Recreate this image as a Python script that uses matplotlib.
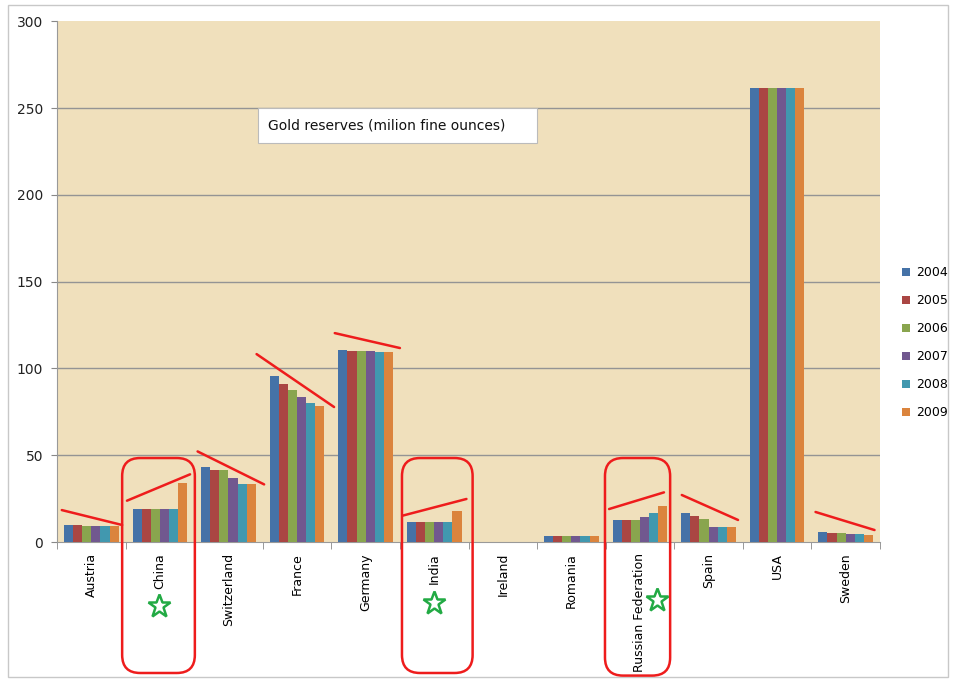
import numpy as np
import matplotlib
matplotlib.use("Agg")
import matplotlib.pyplot as plt
from matplotlib.patches import FancyBboxPatch, Rectangle, Patch

plt.rcParams['font.family'] = ['DejaVu Sans']

countries = ["Austria", "China", "Switzerland", "France", "Germany", "India",
             "Ireland", "Romania", "Russian Federation", "Spain", "USA", "Sweden"]
years = ["2004", "2005", "2006", "2007", "2008", "2009"]
v2004 = [10.0, 19.3, 43.5, 95.9, 110.4, 11.5, 0.2, 3.4, 12.4, 16.8, 261.5, 5.8]
v2005 = [9.6, 19.3, 41.5, 90.8, 110.2, 11.5, 0.2, 3.4, 12.4, 14.7, 261.5, 5.3]
v2006 = [9.5, 19.3, 41.5, 87.4, 110.0, 11.5, 0.2, 3.4, 12.6, 13.2, 261.5, 5.2]
v2007 = [9.0, 19.3, 36.8, 83.6, 109.8, 11.5, 0.2, 3.4, 14.3, 8.6, 261.5, 4.7]
v2008 = [9.0, 19.3, 33.4, 80.1, 109.7, 11.5, 0.2, 3.4, 16.5, 8.6, 261.5, 4.6]
v2009 = [9.0, 33.9, 33.4, 78.2, 109.5, 17.9, 0.2, 3.4, 20.7, 8.6, 261.5, 4.1]
series = [v2004, v2005, v2006, v2007, v2008, v2009]
colors = ["#4572A7", "#AA4643", "#89A54E", "#71588F", "#4198AF", "#DB843D"]

# hand-drawn red trend strokes: (category, x-offset start, y start, x-offset end, y end)
trend_lines = [
    (0, -0.43, 18.4, 0.45, 9.8),
    (1, -0.48, 23.8, 0.44, 39.0),
    (2, -0.45, 52.2, 0.52, 33.2),
    (3, -0.59, 108.3, 0.54, 77.8),
    (4, -0.45, 120.4, 0.50, 111.8),
    (5, -0.46, 15.2, 0.47, 24.8),
    (8, -0.45, 19.0, 0.35, 28.6),
    (9, -0.39, 27.1, 0.43, 12.7),
    (11, -0.44, 17.3, 0.42, 6.9),
]
# highlight boxes: (category, x-offset left, x-offset right, y top, y bottom)
highlight_boxes = [
    (1, -0.55, 0.51, 48.4, -75.5),
    (5, -0.47, 0.56, 48.4, -75.5),
    (8, -0.51, 0.44, 48.4, -77.0),
]
# green stars: (category, x-offset, y)
stars = [(1, -0.01, -36.9), (5, 0.0, -35.1), (8, 0.25, -33.4)]

W, H = 955, 679
fig = plt.figure(figsize=(W / 100, H / 100), dpi=100)
fig.patch.set_facecolor("white")

# outer chart border
fig.patches.append(Rectangle((8 / W, 2 / H), (948 - 8) / W, (674 - 2) / H,
                             transform=fig.transFigure, fill=False,
                             edgecolor="#C8C8C8", linewidth=1))

ax = fig.add_axes([57 / W, (H - 542) / H, (880 - 57) / W, (542 - 21.5) / H])
ax.set_facecolor("#F0E0BC")

x = np.arange(len(countries))
bw = 0.133
for j, (vals, c) in enumerate(zip(series, colors)):
    ax.bar(x + (j - 2.5) * bw, vals, width=bw, color=c, edgecolor="none",
           label=years[j], zorder=3)

ax.set_xlim(-0.5, len(countries) - 0.5)
ax.set_ylim(0, 300)
ax.set_yticks(np.arange(0, 301, 50))
for yv in range(50, 300, 50):
    ax.axhline(yv, color="#949494", linewidth=1, zorder=1)

ax.set_xticks(x)
ax.set_xticklabels(countries, rotation=90, fontsize=9, va="top", ha="center")
ax.set_xticks(np.arange(-0.5, len(countries)), minor=True)
ax.tick_params(axis="x", which="major", length=0, pad=8)
ax.tick_params(axis="x", which="minor", length=5, color="#888888")
ax.tick_params(axis="y", length=4, color="#888888", labelsize=10, pad=6,
               labelcolor="#222222")

for s in ["top", "right"]:
    ax.spines[s].set_visible(False)
for s in ["left", "bottom"]:
    ax.spines[s].set_color("#999999")

# legend
handles = [Patch(facecolor=c, edgecolor="none") for c in colors]
fig.legend(handles, years, loc="center left",
           bbox_to_anchor=(891 / W, 1 - 343 / H), frameon=False,
           fontsize=9, handlelength=0.65, handleheight=0.65, handletextpad=0.45,
           labelspacing=1.2)

# title box
fig.patches.append(Rectangle((258 / W, 1 - 143 / H), (537 - 258) / W, 35 / H,
                             transform=fig.transFigure, facecolor="white",
                             edgecolor="#BBBBBB", linewidth=0.8, zorder=5))
fig.text(268 / W, 1 - 125.5 / H, "Gold reserves (milion fine ounces)",
         fontsize=10, va="center", ha="left", color="#111111", zorder=6)

# red trend strokes
for ci, xo0, y0, xo1, y1 in trend_lines:
    ax.plot([ci + xo0, ci + xo1], [y0, y1], color="#EE1C1C", linewidth=1.8,
            clip_on=False, zorder=6, solid_capstyle="round")

# red highlight boxes (drawn in display space)
fig.canvas.draw()
for ci, xl, xr, yt, yb in highlight_boxes:
    (px0, py0) = ax.transData.transform((ci + xl, yb))
    (px1, py1) = ax.transData.transform((ci + xr, yt))
    r = 18
    box = FancyBboxPatch((px0 + r, py0 + r), (px1 - px0) - 2 * r, (py1 - py0) - 2 * r,
                         boxstyle=f"round,pad={r},rounding_size={r}",
                         transform=None, fill=False, edgecolor="#EE1C1C",
                         linewidth=1.8, zorder=7)
    fig.patches.append(box)

# green stars
for ci, xo, yv in stars:
    ax.plot([ci + xo], [yv], marker="*", markersize=17, markerfacecolor="none",
            markeredgecolor="#22AA44", markeredgewidth=1.8, clip_on=False, zorder=8)

fig.savefig("out.png", dpi=100)
